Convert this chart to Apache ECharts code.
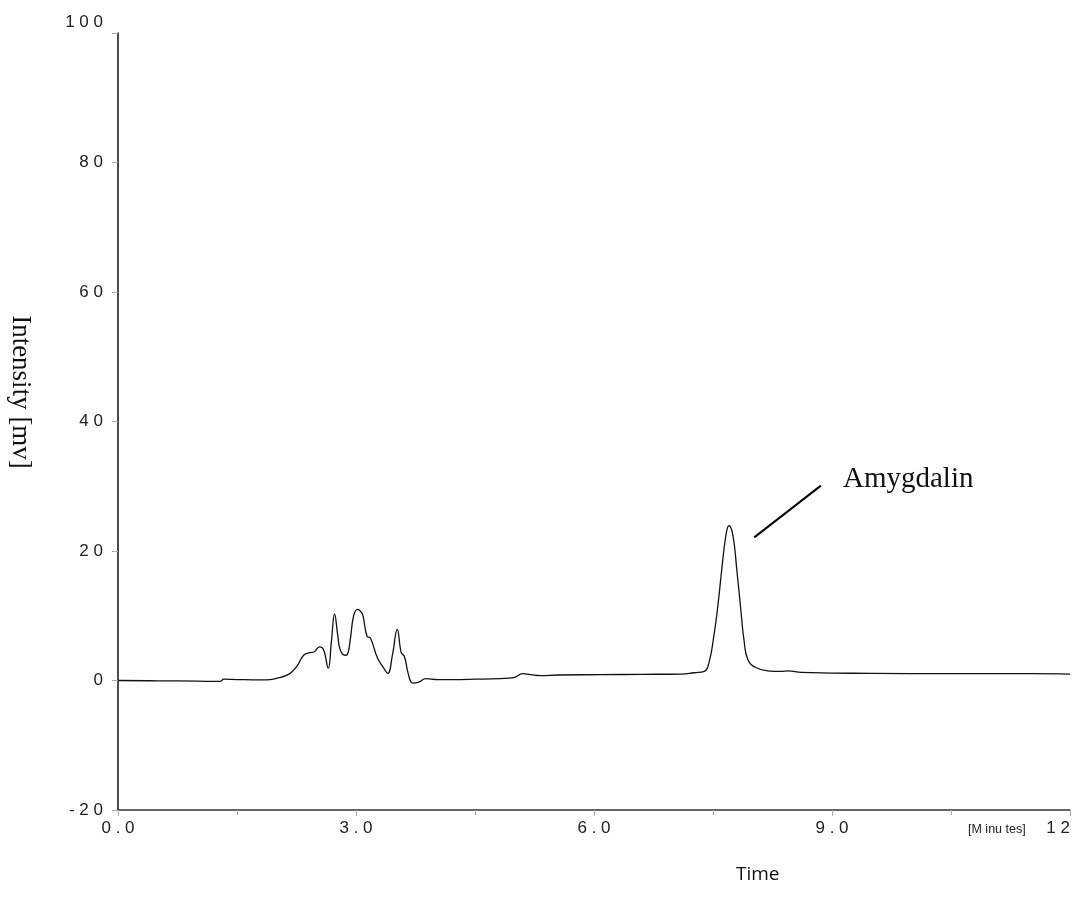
<!DOCTYPE html>
<html>
<head>
<meta charset="utf-8">
<script src="https://cdn.jsdelivr.net/npm/echarts@6/dist/echarts.min.js"></script>
<style>html,body{margin:0;padding:0;background:#fff}#c{width:1073px;height:916px}</style>
</head>
<body>
<div id="c"></div>
<script>
// Retention time (minutes)
var timeMin = [0.00, 0.50, 1.00, 1.26, 1.30, 1.33, 1.50, 1.80, 1.92, 2.05, 2.17, 2.26, 2.34, 2.42, 2.47, 2.54, 2.59, 2.65, 2.69, 2.73, 2.77, 2.80, 2.86, 2.89, 2.93, 2.97, 3.02, 3.07, 3.09, 3.14, 3.18, 3.27, 3.34, 3.40, 3.46, 3.52, 3.57, 3.61, 3.65, 3.69, 3.72, 3.80, 3.88, 4.03, 4.19, 4.50, 4.82, 4.99, 5.10, 5.20, 5.33, 5.54, 6.09, 6.60, 7.10, 7.26, 7.39, 7.45, 7.51, 7.56, 7.61, 7.66, 7.70, 7.75, 7.80, 7.85, 7.89, 7.94, 8.04, 8.19, 8.35, 8.45, 8.61, 8.99, 9.50, 10.50, 11.50, 12.00];
// Intensity (mV)
var intensity = [0.00, -0.05, -0.10, -0.15, -0.10, 0.20, 0.15, 0.10, 0.15, 0.50, 1.10, 2.30, 3.90, 4.30, 4.40, 5.20, 4.80, 1.90, 6.00, 10.30, 7.00, 4.80, 3.90, 4.00, 6.50, 10.00, 11.00, 10.50, 9.90, 6.80, 6.60, 3.50, 2.10, 1.10, 4.00, 7.90, 4.30, 3.70, 1.50, -0.20, -0.40, -0.20, 0.30, 0.15, 0.15, 0.20, 0.30, 0.45, 1.05, 0.90, 0.75, 0.85, 0.90, 0.95, 1.00, 1.20, 1.40, 2.80, 6.80, 11.40, 17.10, 22.20, 23.90, 22.50, 17.10, 11.00, 6.30, 3.20, 2.00, 1.50, 1.40, 1.50, 1.25, 1.15, 1.10, 1.05, 1.05, 1.00];

var xTicks = [0, 3, 6, 9, 12];
var xTickText = ['0 . 0', '3 . 0', '6 . 0', '9 . 0', '1 2'];
var yTicks = [-20, 0, 20, 40, 60, 80, 100];
var yTickText = ['- 2 0', '0', '2 0', '4 0', '6 0', '8 0', '1 0 0'];

var peakName = 'Amygdalin';
var pointerLine = [[8.02, 22.1], [8.86, 30.1]];

var points = timeMin.map(function (t, i) { return [t, intensity[i]]; });

var chart = echarts.init(document.getElementById('c'), null, {renderer: 'canvas'});
chart.setOption({
  animation: false,
  backgroundColor: '#ffffff',
  grid: {left: 118, right: 3, top: 33, bottom: 106, containLabel: false, outerBoundsMode: 'none'},
  xAxis: {
    type: 'value', min: 0, max: 12, interval: 3,
    axisLine: {show: true, onZero: false, lineStyle: {color: '#333333', width: 1.5}},
    axisTick: {show: true, length: 6, lineStyle: {color: '#aaaaaa'}},
    minorTick: {show: true, splitNumber: 2, length: 5, lineStyle: {color: '#aaaaaa'}},
    splitLine: {show: false},
    axisLabel: {
      margin: 10, color: '#222', fontFamily: 'Liberation Sans, Arial, sans-serif', fontSize: 17,
      alignMaxLabel: 'right',
      formatter: function (v) { var i = xTicks.indexOf(v); return i >= 0 ? xTickText[i] : ''; }
    }
  },
  yAxis: {
    type: 'value', min: -20, max: 100, interval: 20,
    axisLine: {show: true, onZero: false, lineStyle: {color: '#111111', width: 1.5}},
    axisTick: {show: true, length: 6, lineStyle: {color: '#aaaaaa'}},
    splitLine: {show: false},
    axisLabel: {
      margin: 15, color: '#222', fontFamily: 'Liberation Sans, Arial, sans-serif', fontSize: 17,
      formatter: function (v) {
        var i = yTicks.indexOf(v);
        if (i < 0) return '';
        return v === 100 ? '{t|' + yTickText[i] + '}' : yTickText[i];
      },
      rich: {t: {fontFamily: 'Liberation Sans, Arial, sans-serif', fontSize: 17, color: '#222', padding: [0, 0, 22, 0]}}
    }
  },
  series: [{
    type: 'line',
    data: points,
    showSymbol: false,
    smooth: 0.45,
    lineStyle: {color: '#111111', width: 1.3},
    markLine: {
      silent: true, symbol: ['none', 'none'],
      lineStyle: {color: '#000', width: 2, type: 'solid'},
      label: {show: false},
      data: [[{coord: pointerLine[0]}, {coord: pointerLine[1]}]]
    }
  }],
  graphic: [
    {type: 'text', left: 843, top: 465, style: {text: peakName, font: '29px "Liberation Serif", "Times New Roman", serif', fill: '#111'}},
    {type: 'text', left: 968, top: 823, style: {text: '[M inu tes]', font: '12.5px "Liberation Sans", Arial, sans-serif', fill: '#222'}},
    {type: 'text', left: 736, top: 865, style: {text: 'Time', font: '19px "Open Sans", "Liberation Sans", sans-serif', fill: '#111'}},
    {type: 'text', x: 20, y: 392, rotation: -Math.PI / 2, style: {text: 'Intensity [mv]', font: '27px "Liberation Serif", "Times New Roman", serif', fill: '#111', align: 'center', verticalAlign: 'middle'}, originX: 0, originY: 0}
  ]
});
</script>
</body>
</html>
